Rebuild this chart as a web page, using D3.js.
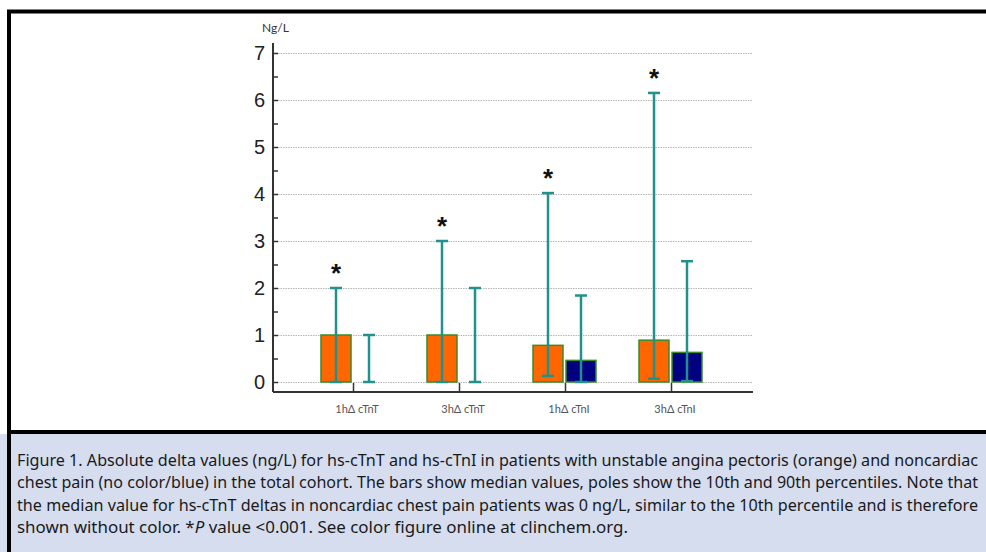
<!DOCTYPE html>
<html>
<head>
<meta charset="utf-8">
<script src="https://cdn.jsdelivr.net/npm/d3@7"></script>
<style>
  body { margin: 0; background: #fff; }
</style>
</head>
<body>
<div class="chart"></div>
<script>
// data (ng/L)
const categories = ['1hΔ cTnT', '3hΔ cTnT', '1hΔ cTnI', '3hΔ cTnI'];
const anginaMedian = [1, 1, 0.78, 0.89];
const anginaP10 = [0, 0, 0.13, 0.07];
const anginaP90 = [2, 3, 4.02, 6.15];
const chestMedian = [0, 0, 0.46, 0.63];
const chestP10 = [0, 0, 0, 0.02];
const chestP90 = [1, 2, 1.84, 2.57];
const significant = [true, true, true, true];
const yTicks = [0, 1, 2, 3, 4, 5, 6, 7];

const captionLines = [
  'Figure 1. Absolute delta values (ng/L) for hs-cTnT and hs-cTnI in patients with unstable angina pectoris (orange) and noncardiac',
  'chest pain (no color/blue) in the total cohort. The bars show median values, poles show the 10th and 90th percentiles. Note that',
  'the median value for hs-cTnT deltas in noncardiac chest pain patients was 0 ng/L, similar to the 10th percentile and is therefore'
];

let width = 986;
let height = 552;

let svg = d3.select('.chart')
  .append('svg')
    .attr('width', width)
    .attr('height', height);

// caption background + frame
svg.append('rect')
  .attr('x', 0).attr('y', 434)
  .attr('width', width).attr('height', height - 434)
  .style('fill', '#d5ddef');

svg.append('path')
  .attr('d', `M9,${height} V11.5 H${width + 5}`)
  .style('fill', 'none')
  .style('stroke', '#000')
  .style('stroke-width', 4);

svg.append('line')
  .attr('x1', 9).attr('x2', width + 5)
  .attr('y1', 432).attr('y2', 432)
  .style('stroke', '#000')
  .style('stroke-width', 4);

// scales
let y = d3.scaleLinear().domain([0, 7]).range([382, 53]);
let x = d3.scalePoint().domain(categories).range([353, 671]);

const axisX0 = 273, axisX1 = 753, axisY = 392;

// gridlines
svg.append('g')
  .selectAll('line')
  .data(yTicks)
  .enter()
  .append('line')
    .attr('x1', axisX0 + 5)
    .attr('x2', axisX1)
    .attr('y1', d => y(d) + 0.5)
    .attr('y2', d => y(d) + 0.5)
    .style('stroke', '#b5b5b5')
    .style('stroke-width', 1)
    .style('stroke-dasharray', '1.5,1');

// y axis (ticks pointing inward)
let yAxis = svg.append('g')
  .attr('transform', `translate(${axisX0},0)`)
  .call(d3.axisLeft(y).tickValues(yTicks).tickFormat(d3.format('d'))
    .tickSize(-5).tickPadding(8).tickSizeOuter(0));
yAxis.select('.domain').remove();
yAxis.selectAll('line').style('stroke', '#333').style('stroke-width', 1.5);
yAxis.selectAll('text')
  .style('font-family', '"Liberation Sans", Arial, sans-serif')
  .style('font-size', '20px')
  .style('fill', '#222');

let minor = svg.append('g')
  .attr('transform', `translate(${axisX0},0)`)
  .call(d3.axisLeft(y).tickValues(d3.range(0.5, 7, 1)).tickSize(-5).tickFormat(''));
minor.select('.domain').remove();
minor.selectAll('line').style('stroke', '#333').style('stroke-width', 1.5);

svg.append('line')
  .attr('x1', axisX0).attr('x2', axisX0)
  .attr('y1', 43).attr('y2', axisY)
  .style('stroke', '#333').style('stroke-width', 2);

svg.append('line')
  .attr('x1', axisX0).attr('x2', axisX1)
  .attr('y1', axisY).attr('y2', axisY)
  .style('stroke', '#333').style('stroke-width', 2);

// x axis category ticks (pointing up)
let xAxis = svg.append('g')
  .attr('transform', `translate(0,${axisY})`)
  .call(d3.axisTop(x).tickSize(9).tickFormat(''));
xAxis.select('.domain').remove();
xAxis.selectAll('line').style('stroke', '#333').style('stroke-width', 1.5);

svg.append('g')
  .selectAll('text')
  .data(categories)
  .enter()
  .append('text')
    .attr('x', d => x(d) + 4)
    .attr('y', 413)
    .attr('text-anchor', 'middle')
    .style('font-family', 'Lato, "Open Sans", sans-serif')
    .style('font-size', '11px')
    .style('fill', '#555')
    .text(d => d);

svg.append('text')
  .attr('x', 262)
  .attr('y', 32)
  .style('font-family', 'Lato, "Open Sans", sans-serif')
  .style('font-size', '12px')
  .style('fill', '#333')
  .text('Ng/L');

// bars
const barW = 30;
const orangeOff = -17, blueOff = 16;

svg.append('g')
  .selectAll('rect')
  .data(categories)
  .enter()
  .append('rect')
    .attr('x', d => x(d) + orangeOff - barW / 2)
    .attr('y', (d, i) => y(anginaMedian[i]))
    .attr('width', barW)
    .attr('height', (d, i) => y(0) - y(anginaMedian[i]))
    .style('fill', '#ff6600')
    .style('stroke', '#3a8a2a')
    .style('stroke-width', 1.5);

svg.append('g')
  .selectAll('rect')
  .data(categories.filter((d, i) => chestMedian[i] > 0))
  .enter()
  .append('rect')
    .attr('x', d => x(d) + blueOff - barW / 2)
    .attr('y', d => y(chestMedian[categories.indexOf(d)]))
    .attr('width', barW)
    .attr('height', d => y(0) - y(chestMedian[categories.indexOf(d)]))
    .style('fill', '#000080')
    .style('stroke', '#3a8a2a')
    .style('stroke-width', 1.5);

// whiskers (10th - 90th percentile)
function drawWhiskers(lo, hi, off) {
  let g = svg.append('g')
    .selectAll('g')
    .data(categories)
    .enter()
    .append('g')
      .style('stroke', '#21918c')
      .style('stroke-width', 2.5);
  g.append('line')
    .attr('x1', d => x(d) + off).attr('x2', d => x(d) + off)
    .attr('y1', (d, i) => y(lo[i])).attr('y2', (d, i) => y(hi[i]));
  g.append('line')
    .attr('x1', d => x(d) + off - 6).attr('x2', d => x(d) + off + 6)
    .attr('y1', (d, i) => y(hi[i])).attr('y2', (d, i) => y(hi[i]));
  g.append('line')
    .attr('x1', d => x(d) + off - 6).attr('x2', d => x(d) + off + 6)
    .attr('y1', (d, i) => y(lo[i])).attr('y2', (d, i) => y(lo[i]));
}
drawWhiskers(anginaP10, anginaP90, orangeOff);
drawWhiskers(chestP10, chestP90, blueOff);

// significance stars
svg.append('g')
  .selectAll('text')
  .data(categories.filter((d, i) => significant[i]))
  .enter()
  .append('text')
    .attr('x', d => x(d) + orangeOff)
    .attr('y', d => y(anginaP90[categories.indexOf(d)]) - 6)
    .attr('text-anchor', 'middle')
    .style('font-family', '"Liberation Sans", Arial, sans-serif')
    .style('font-size', '26px')
    .style('font-weight', 'bold')
    .style('fill', '#111')
    .text('*');

// caption
let cap = svg.append('g')
  .style('font-family', '"Noto Sans", sans-serif')
  .style('font-size', '16px')
  .style('fill', '#1a1a1a');

cap.selectAll('text.line')
  .data(captionLines)
  .enter()
  .append('text')
    .attr('class', 'line')
    .attr('x', 17)
    .attr('y', (d, i) => 466 + i * 22.4)
    .attr('textLength', 961)
    .attr('lengthAdjust', 'spacingAndGlyphs')
    .text(d => d);

let last = cap.append('text')
  .attr('x', 17)
  .attr('y', 466 + 3 * 22.4)
  .attr('textLength', 611)
  .attr('lengthAdjust', 'spacingAndGlyphs');
last.append('tspan').text('shown without color. *');
last.append('tspan').style('font-style', 'italic').text('P');
last.append('tspan').text(' value <0.001. See color figure online at clinchem.org.');
</script>
</body>
</html>
